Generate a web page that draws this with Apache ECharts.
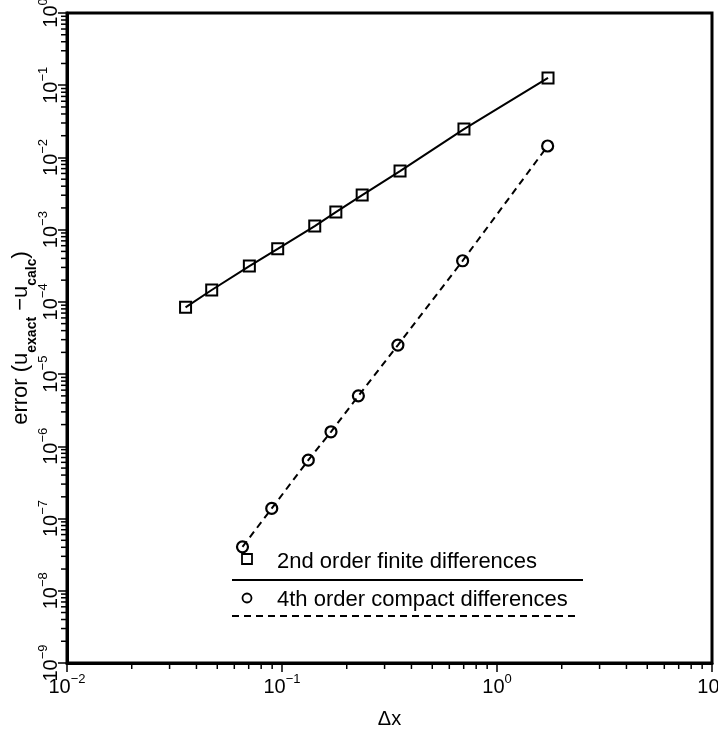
<!DOCTYPE html>
<html>
<head>
<meta charset="utf-8">
<script src="https://cdn.jsdelivr.net/npm/echarts@6/dist/echarts.min.js"></script>
<style>
  html, body { margin: 0; padding: 0; background: #fff; }
  #chart { width: 718px; height: 738px; }
</style>
</head>
<body>
<div id="chart"></div>
<script>
// grid spacing and error, 2nd order finite differences (squares, solid)
const dx2nd = [0.0356, 0.0471, 0.0705, 0.0955, 0.142, 0.178, 0.236, 0.354, 0.702, 1.727];
const err2nd = [8.4e-5, 1.46e-4, 3.13e-4, 5.43e-4, 1.12e-3, 1.75e-3, 3.01e-3, 6.48e-3, 2.47e-2, 0.126];
// 4th order compact differences (circles, dashed)
const dx4th = [0.0655, 0.0896, 0.1325, 0.169, 0.2266, 0.346, 0.692, 1.72];
const err4th = [4.06e-8, 1.38e-7, 6.44e-7, 1.59e-6, 5.0e-6, 2.52e-5, 3.71e-4, 1.44e-2];

const legendNames = ['2nd order finite differences', '4th order compact differences'];
const xRange = [0.01, 10];
const yRange = [1e-9, 1];
const minorSteps = [2, 3, 4, 5, 6, 7, 8, 9];
const xDecades = [0.01, 0.1, 1];
const yDecades = [1e-9, 1e-8, 1e-7, 1e-6, 1e-5, 1e-4, 1e-3, 1e-2, 1e-1];

const FONT = '"Liberation Sans", Arial, sans-serif';

// minor ticks at 2..9 of every decade
const xMinor = [];
xDecades.forEach(d => minorSteps.forEach(m => xMinor.push(d * m)));
const yMinor = [];
yDecades.forEach(d => minorSteps.forEach(m => yMinor.push(d * m)));

function powerLabel(v) {
  let e = Math.round(Math.log10(v));
  let s = e < 0 ? '\u2212' + (-e) : '' + e;
  return '{b|10}{s|' + s + '}';
}

const powRich = {
  b: { fontSize: 20, fontFamily: FONT, color: '#000', padding: [4, 0, 0, 0], verticalAlign: 'bottom' },
  s: { fontSize: 13, fontFamily: FONT, color: '#000', verticalAlign: 'top' }
};

let chart = echarts.init(document.getElementById('chart'));

chart.setOption({
  animation: false,
  backgroundColor: '#fff',
  grid: {
    left: 67, right: 6, top: 13, bottom: 75,
    outerBoundsMode: 'none',
    show: true, borderColor: '#000', borderWidth: 3
  },
  xAxis: {
    type: 'log', logBase: 10, min: xRange[0], max: xRange[1],
    name: '\u0394x', nameLocation: 'middle', nameGap: 46,
    nameTextStyle: { fontSize: 20, fontFamily: FONT, color: '#000' },
    axisLine: { show: true, lineStyle: { color: '#000', width: 3 } },
    axisTick: { show: true, inside: false, length: 9, lineStyle: { color: '#000', width: 1.5 } },
    axisLabel: { formatter: powerLabel, rich: powRich, margin: 10, showMaxLabel: true, showMinLabel: true },
    splitLine: { show: false }
  },
  yAxis: {
    type: 'log', logBase: 10, min: yRange[0], max: yRange[1],
    name: '{t|error (u}{sub|exact}{t| \u2212u}{sub|calc}{t|)}',
    nameLocation: 'middle', nameGap: 28, nameMoveOverlap: false,
    nameTextStyle: {
      rich: {
        t: { fontSize: 22, fontFamily: FONT, color: '#000', padding: [0, 0, 7, 0], verticalAlign: 'top' },
        sub: { fontSize: 14, fontFamily: FONT, color: '#000', fontWeight: 'bold', verticalAlign: 'bottom' }
      }
    },
    axisLine: { show: true, lineStyle: { color: '#000', width: 3 } },
    axisTick: { show: true, inside: false, length: 9, lineStyle: { color: '#000', width: 1.5 } },
    axisLabel: { formatter: powerLabel, rich: powRich, rotate: 90, margin: 6, showMaxLabel: true, showMinLabel: true },
    splitLine: { show: false }
  },
  series: [
    {
      name: legendNames[0],
      type: 'line',
      data: dx2nd.map((x, i) => [x, err2nd[i]]),
      symbol: 'rect', symbolSize: 11,
      lineStyle: { color: '#000', width: 2 },
      itemStyle: { color: 'rgba(0,0,0,0)', borderColor: '#000', borderWidth: 2 },
      z: 3
    },
    {
      name: legendNames[1],
      type: 'line',
      data: dx4th.map((x, i) => [x, err4th[i]]),
      symbol: 'circle', symbolSize: 11,
      lineStyle: { color: '#000', width: 2, type: [7, 5] },
      itemStyle: { color: 'rgba(0,0,0,0)', borderColor: '#000', borderWidth: 2.2 },
      z: 3
    },
    {
      // minor ticks under the x axis
      type: 'custom', silent: true, clip: false, z: 5,
      data: xMinor.map(v => [v, yRange[0]]),
      renderItem: (params, api) => {
        let p = api.coord([api.value(0), api.value(1)]);
        return { type: 'line', shape: { x1: p[0], y1: p[1], x2: p[0], y2: p[1] + 6 },
          style: { stroke: '#000', lineWidth: 1.5 } };
      }
    },
    {
      // minor ticks left of the y axis
      type: 'custom', silent: true, clip: false, z: 5,
      data: yMinor.map(v => [xRange[0], v]),
      renderItem: (params, api) => {
        let p = api.coord([api.value(0), api.value(1)]);
        return { type: 'line', shape: { x1: p[0], y1: p[1], x2: p[0] - 6, y2: p[1] },
          style: { stroke: '#000', lineWidth: 1.5 } };
      }
    }
  ],
  // legend drawn like the original: marker + text, line sample below
  graphic: [
    { type: 'rect', shape: { x: 242, y: 554, width: 10, height: 10 }, style: { fill: 'none', stroke: '#000', lineWidth: 1.8 } },
    { type: 'text', x: 277, y: 562, style: { text: legendNames[0], font: '22px ' + FONT, fill: '#000', textVerticalAlign: 'middle' } },
    { type: 'line', shape: { x1: 232, y1: 580, x2: 583, y2: 580 }, style: { stroke: '#000', lineWidth: 2 } },
    { type: 'circle', shape: { cx: 247, cy: 598, r: 4.5 }, style: { fill: 'none', stroke: '#000', lineWidth: 1.8 } },
    { type: 'text', x: 277, y: 600, style: { text: legendNames[1], font: '22px ' + FONT, fill: '#000', textVerticalAlign: 'middle' } },
    { type: 'line', shape: { x1: 232, y1: 616, x2: 578, y2: 616 }, style: { stroke: '#000', lineWidth: 2, lineDash: [7, 5] } }
  ]
});
</script>
</body>
</html>
